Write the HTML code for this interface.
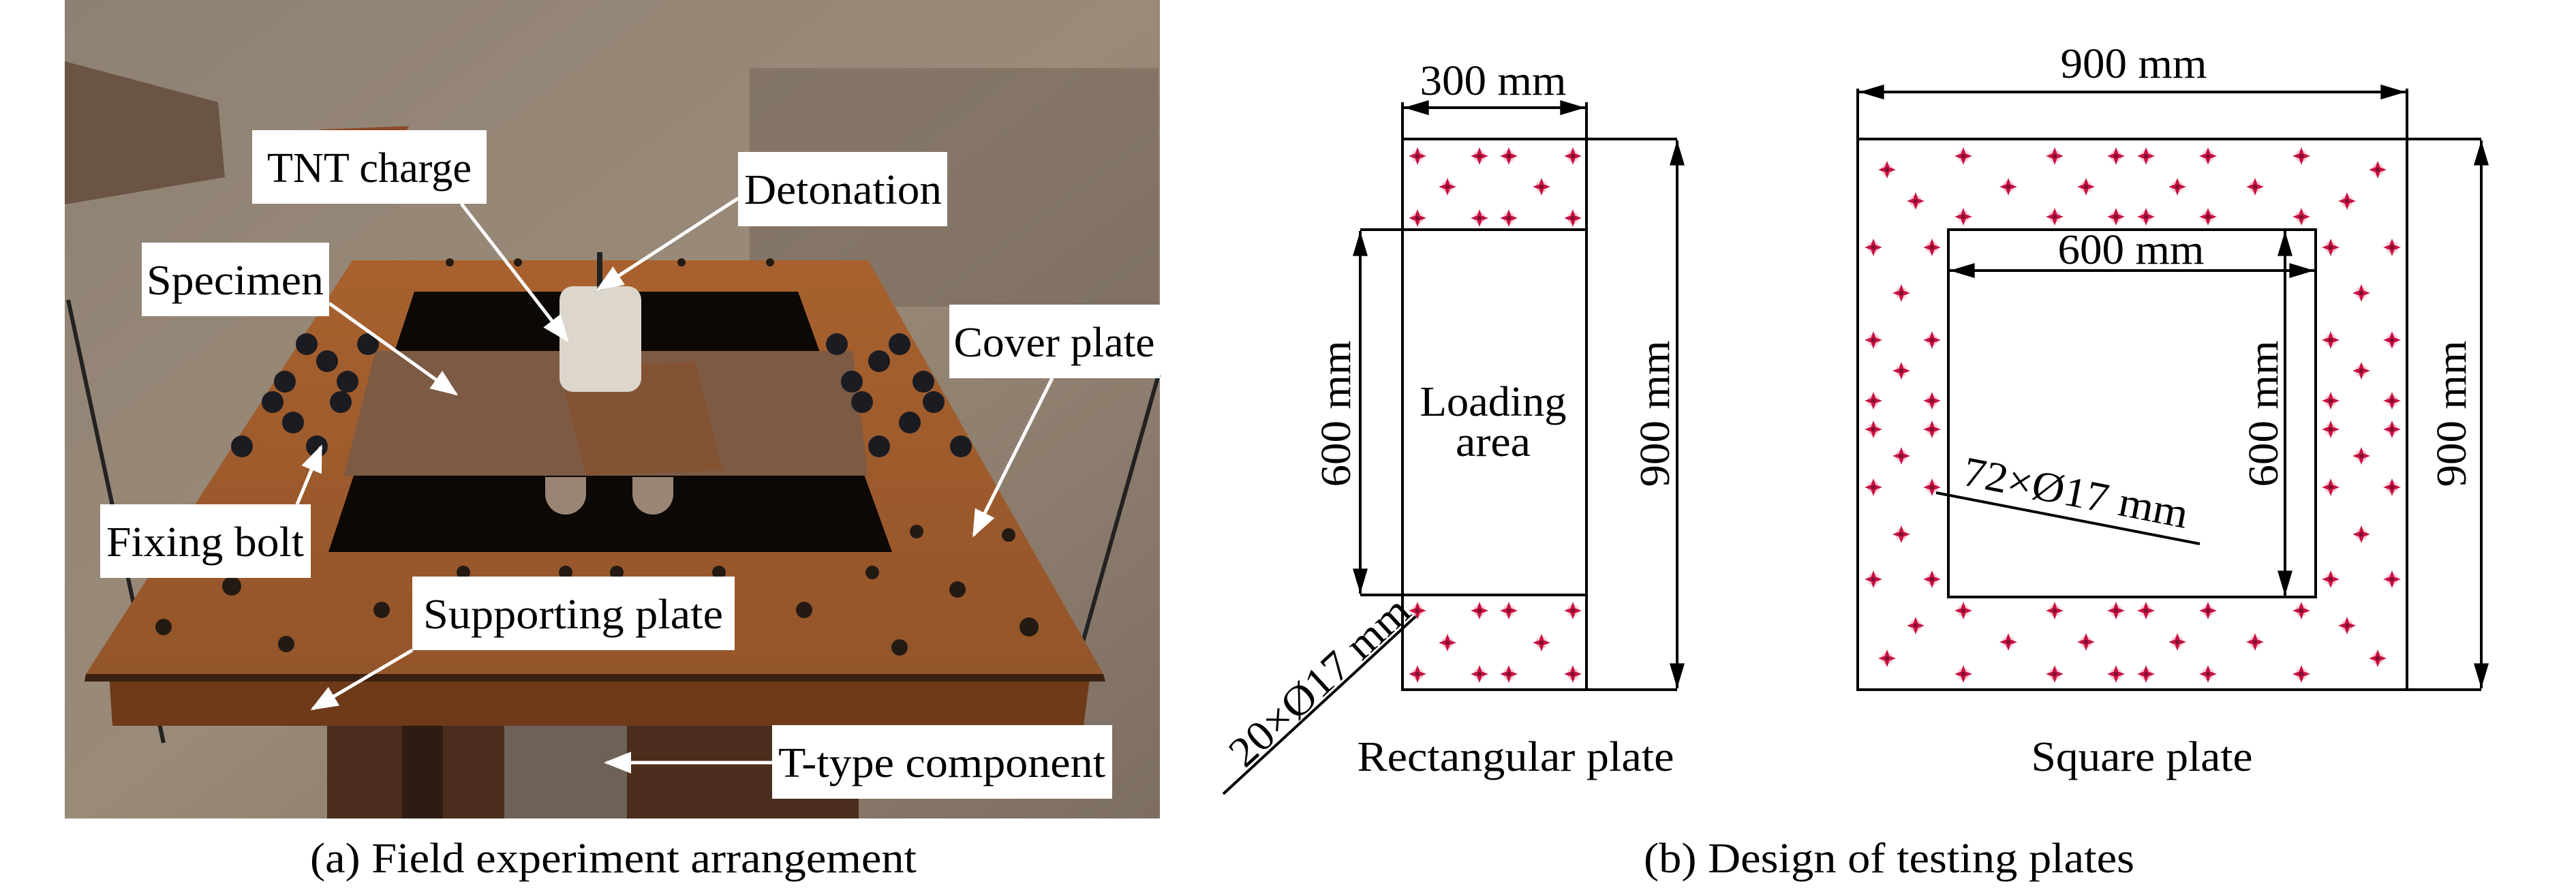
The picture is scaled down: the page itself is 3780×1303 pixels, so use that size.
<!DOCTYPE html>
<html><head><meta charset="utf-8"><style>
html,body{margin:0;padding:0;background:#fff;}
svg{display:block;}
text{font-family:"Liberation Serif","Noto Serif CJK SC","DejaVu Serif","Times New Roman",serif;fill:#000;}
</style></head><body>
<svg width="3780" height="1303" viewBox="0 0 3780 1303" xmlns="http://www.w3.org/2000/svg">
<defs>
<marker id="aw" viewBox="0 0 10 8" refX="9" refY="4" markerWidth="40" markerHeight="32" orient="auto" markerUnits="userSpaceOnUse">
<path d="M0,0 L10,4 L0,8 z" fill="#fff"/></marker>
<marker id="ak" viewBox="0 0 10 6" refX="10" refY="3" markerWidth="50" markerHeight="22" orient="auto-start-reverse" markerUnits="userSpaceOnUse">
<path d="M0,0 L10,3 L0,6 z" fill="#000"/></marker>
<linearGradient id="dirt" x1="0" y1="0" x2="1" y2="1">
<stop offset="0" stop-color="#8e8174"/><stop offset="0.5" stop-color="#9a8a78"/><stop offset="1" stop-color="#7d6e62"/></linearGradient>
<linearGradient id="rust" x1="0" y1="0" x2="0" y2="1">
<stop offset="0" stop-color="#a8612e"/><stop offset="1" stop-color="#93552a"/></linearGradient>
<g id="h"><circle r="9" fill="#f2b8cc" opacity="0.7"/><path d="M0,-13 L3.5,-3.5 L13,0 L3.5,3.5 L0,13 L-3.5,3.5 L-13,0 L-3.5,-3.5 z" fill="#c8103f"/><circle r="3" fill="#7a1030"/></g>
</defs>

<rect x="95" y="0" width="1607" height="1201" fill="url(#dirt)"/>
<rect x="1100" y="100" width="600" height="350" fill="#6f6256" opacity="0.5"/>
<polygon points="95,90 320,150 330,260 95,300" fill="#6b5444"/>
<polygon points="470,190 600,185 560,270 450,280" fill="#8a4a25"/>
<line x1="100" y1="440" x2="240" y2="1090" stroke="#222" stroke-width="6"/>
<line x1="1700" y1="550" x2="1530" y2="1150" stroke="#222" stroke-width="6"/>
<rect x="480" y="1060" width="780" height="141" fill="#4a2d1c"/>
<rect x="740" y="1065" width="180" height="136" fill="#6e6258"/>
<rect x="590" y="1060" width="60" height="141" fill="#2e1c12"/>
<polygon points="160,989 1600,989 1590,1065 165,1065" fill="#6e3a1a"/>
<polygon points="517,382 1274,382 1619,989 126,989" fill="url(#rust)"/>
<polygon points="126,989 1619,989 1622,1000 124,1000" fill="#3a2010"/>
<polygon points="608,428 1171,428 1309,810 482,810" fill="#0b0806"/>
<polygon points="551,515 1251,515 1274,698 505,698" fill="#7c5a44"/>
<polygon points="820,540 1020,530 1060,690 860,698" fill="#8a4e2a" opacity="0.6"/>
<path d="M800,725 a30,30 0 0 0 60,0 v-25 h-60z M928,725 a30,30 0 0 0 60,0 v-25 h-60z" fill="#9a8474"/>
<rect x="821" y="420" width="120" height="155" rx="20" fill="#dcd6cc"/>
<rect x="876" y="370" width="8" height="55" fill="#222"/>
<g fill="#1b1b22">
<circle cx="450" cy="505" r="16"/><circle cx="480" cy="530" r="16"/><circle cx="540" cy="505" r="16"/>
<circle cx="418" cy="560" r="16"/><circle cx="510" cy="560" r="16"/><circle cx="400" cy="590" r="16"/><circle cx="500" cy="590" r="16"/>
<circle cx="430" cy="620" r="16"/><circle cx="355" cy="655" r="16"/><circle cx="465" cy="655" r="16"/>
<circle cx="1228" cy="505" r="16"/><circle cx="1320" cy="505" r="16"/><circle cx="1290" cy="530" r="16"/>
<circle cx="1250" cy="560" r="16"/><circle cx="1355" cy="560" r="16"/><circle cx="1265" cy="590" r="16"/><circle cx="1370" cy="590" r="16"/>
<circle cx="1335" cy="620" r="16"/><circle cx="1290" cy="655" r="16"/><circle cx="1410" cy="655" r="16"/>
</g>
<g fill="#241a14">
<circle cx="240" cy="920" r="12"/><circle cx="420" cy="945" r="12"/><circle cx="560" cy="895" r="12"/><circle cx="680" cy="840" r="10"/>
<circle cx="830" cy="840" r="10"/><circle cx="905" cy="840" r="10"/><circle cx="1055" cy="840" r="10"/><circle cx="1280" cy="840" r="10"/>
<circle cx="1180" cy="895" r="12"/><circle cx="1320" cy="950" r="12"/><circle cx="1405" cy="865" r="12"/><circle cx="1480" cy="785" r="10"/>
<circle cx="340" cy="860" r="14"/><circle cx="1510" cy="920" r="14"/><circle cx="1345" cy="780" r="10"/>
<circle cx="660" cy="385" r="6"/><circle cx="760" cy="385" r="6"/><circle cx="1000" cy="385" r="6"/><circle cx="1130" cy="385" r="6"/>
</g>
<g fill="#fff">
<rect x="370" y="191" width="344" height="108"/>
<rect x="1083" y="223" width="307" height="109"/>
<rect x="208" y="356" width="275" height="108"/>
<rect x="1393" y="447" width="309" height="108"/>
<rect x="147" y="740" width="309" height="108"/>
<rect x="605" y="846" width="473" height="108"/>
<rect x="1133" y="1064" width="499" height="108"/>
</g>
<g stroke="#fff" stroke-width="5" marker-end="url(#aw)" fill="none">
<line x1="677" y1="299" x2="832" y2="499"/>
<line x1="1083" y1="291" x2="878" y2="424"/>
<line x1="483" y1="445" x2="669" y2="578"/>
<line x1="1544" y1="555" x2="1429" y2="785"/>
<line x1="436" y1="740" x2="471" y2="656"/>
<line x1="605" y1="954" x2="459" y2="1040"/>
<line x1="1133" y1="1119" x2="890" y2="1119"/>
</g>
<g font-size="62" text-anchor="middle">
<text x="542" y="267" textLength="300" lengthAdjust="spacingAndGlyphs">TNT charge</text>
<text x="1237" y="299" textLength="290" lengthAdjust="spacingAndGlyphs">Detonation</text>
<text x="345" y="432" textLength="260" lengthAdjust="spacingAndGlyphs">Specimen</text>
<text x="1547" y="523" textLength="295" lengthAdjust="spacingAndGlyphs">Cover plate</text>
<text x="301" y="816" textLength="290" lengthAdjust="spacingAndGlyphs">Fixing bolt</text>
<text x="841" y="922" textLength="440" lengthAdjust="spacingAndGlyphs">Supporting plate</text>
<text x="1382" y="1140" textLength="480" lengthAdjust="spacingAndGlyphs">T-type component</text>
<text x="900" y="1280" textLength="890" lengthAdjust="spacingAndGlyphs">(a) Field experiment arrangement</text>
</g>

<g stroke="#000" stroke-width="4" fill="none">
<rect x="2058" y="204" width="270" height="808"/>
<line x1="1996" y1="337" x2="2328" y2="337"/>
<line x1="1996" y1="873" x2="2328" y2="873"/>
<line x1="2328" y1="204" x2="2461" y2="204"/>
<line x1="2328" y1="1012" x2="2461" y2="1012"/>
<line x1="2058" y1="150" x2="2058" y2="204"/>
<line x1="2328" y1="150" x2="2328" y2="204"/>
<rect x="2726" y="204" width="806" height="808"/>
<rect x="2859" y="337" width="539" height="539"/>
<line x1="2726" y1="130" x2="2726" y2="204"/>
<line x1="3532" y1="130" x2="3532" y2="204"/>
<line x1="3532" y1="204" x2="3641" y2="204"/>
<line x1="3532" y1="1012" x2="3641" y2="1012"/>
<line x1="2080" y1="902" x2="1795" y2="1165"/>
<line x1="2841" y1="723" x2="3228" y2="798"/>
</g>
<g stroke="#000" stroke-width="4" marker-start="url(#ak)" marker-end="url(#ak)">
<line x1="2060" y1="158" x2="2326" y2="158"/>
<line x1="2461" y1="206" x2="2461" y2="1010"/>
<line x1="1996" y1="339" x2="1996" y2="871"/>
<line x1="2728" y1="135" x2="3530" y2="135"/>
<line x1="3641" y1="206" x2="3641" y2="1010"/>
<line x1="2861" y1="397" x2="3396" y2="397"/>
<line x1="3353" y1="339" x2="3353" y2="874"/>
</g>
<g>
<use href="#h" x="2080" y="229"/><use href="#h" x="2171" y="229"/><use href="#h" x="2214" y="229"/><use href="#h" x="2308" y="229"/>
<use href="#h" x="2124" y="274"/><use href="#h" x="2262" y="274"/>
<use href="#h" x="2080" y="320"/><use href="#h" x="2171" y="320"/><use href="#h" x="2214" y="320"/><use href="#h" x="2308" y="320"/>
<use href="#h" x="2080" y="896"/><use href="#h" x="2171" y="896"/><use href="#h" x="2214" y="896"/><use href="#h" x="2308" y="896"/>
<use href="#h" x="2124" y="943"/><use href="#h" x="2262" y="943"/>
<use href="#h" x="2080" y="989"/><use href="#h" x="2171" y="989"/><use href="#h" x="2214" y="989"/><use href="#h" x="2308" y="989"/>
</g>
<g>
<use href="#h" x="2881" y="229"/><use href="#h" x="3015" y="229"/><use href="#h" x="3105" y="229"/><use href="#h" x="3149" y="229"/><use href="#h" x="3240" y="229"/><use href="#h" x="3377" y="229"/>
<use href="#h" x="2769" y="249"/><use href="#h" x="3489" y="249"/>
<use href="#h" x="2947" y="274"/><use href="#h" x="3061" y="274"/><use href="#h" x="3195" y="274"/><use href="#h" x="3309" y="274"/>
<use href="#h" x="2811" y="295"/><use href="#h" x="3444" y="295"/>
<use href="#h" x="2881" y="318"/><use href="#h" x="3015" y="318"/><use href="#h" x="3105" y="318"/><use href="#h" x="3149" y="318"/><use href="#h" x="3240" y="318"/><use href="#h" x="3377" y="318"/>
<use href="#h" x="2881" y="896"/><use href="#h" x="3015" y="896"/><use href="#h" x="3105" y="896"/><use href="#h" x="3149" y="896"/><use href="#h" x="3240" y="896"/><use href="#h" x="3377" y="896"/>
<use href="#h" x="2811" y="918"/><use href="#h" x="3444" y="918"/>
<use href="#h" x="2947" y="942"/><use href="#h" x="3061" y="942"/><use href="#h" x="3195" y="942"/><use href="#h" x="3309" y="942"/>
<use href="#h" x="2769" y="966"/><use href="#h" x="3489" y="966"/>
<use href="#h" x="2881" y="989"/><use href="#h" x="3015" y="989"/><use href="#h" x="3105" y="989"/><use href="#h" x="3149" y="989"/><use href="#h" x="3240" y="989"/><use href="#h" x="3377" y="989"/>
<use href="#h" x="2749" y="363"/><use href="#h" x="2835" y="363"/><use href="#h" x="3420" y="363"/><use href="#h" x="3510" y="363"/>
<use href="#h" x="2790" y="430"/><use href="#h" x="3465" y="430"/>
<use href="#h" x="2749" y="499"/><use href="#h" x="2835" y="499"/><use href="#h" x="3420" y="499"/><use href="#h" x="3510" y="499"/>
<use href="#h" x="2790" y="544"/><use href="#h" x="3465" y="544"/>
<use href="#h" x="2749" y="588"/><use href="#h" x="2835" y="588"/><use href="#h" x="3420" y="588"/><use href="#h" x="3510" y="588"/>
<use href="#h" x="2749" y="630"/><use href="#h" x="2835" y="630"/><use href="#h" x="3420" y="630"/><use href="#h" x="3510" y="630"/>
<use href="#h" x="2790" y="669"/><use href="#h" x="3465" y="669"/>
<use href="#h" x="2749" y="715"/><use href="#h" x="2835" y="715"/><use href="#h" x="3420" y="715"/><use href="#h" x="3510" y="715"/>
<use href="#h" x="2790" y="784"/><use href="#h" x="3465" y="784"/>
<use href="#h" x="2749" y="850"/><use href="#h" x="2835" y="850"/><use href="#h" x="3420" y="850"/><use href="#h" x="3510" y="850"/>
</g>
<g font-size="62" text-anchor="middle">
<text x="2191" y="139" textLength="215" lengthAdjust="spacingAndGlyphs">300 mm</text>
<text x="2191" y="610" textLength="215" lengthAdjust="spacingAndGlyphs">Loading</text>
<text x="2191" y="669" textLength="110" lengthAdjust="spacingAndGlyphs">area</text>
<text transform="translate(1981,607) rotate(-90)" textLength="215" lengthAdjust="spacingAndGlyphs">600 mm</text>
<text transform="translate(2449,607) rotate(-90)" textLength="215" lengthAdjust="spacingAndGlyphs">900 mm</text>
<text x="3131" y="114" textLength="215" lengthAdjust="spacingAndGlyphs">900 mm</text>
<text x="3127" y="387" textLength="215" lengthAdjust="spacingAndGlyphs">600 mm</text>
<text transform="translate(3342,607) rotate(-90)" textLength="215" lengthAdjust="spacingAndGlyphs">600 mm</text>
<text transform="translate(3618,607) rotate(-90)" textLength="215" lengthAdjust="spacingAndGlyphs">900 mm</text>
<text transform="translate(3042,743) rotate(11)" textLength="335" lengthAdjust="spacingAndGlyphs">72×Ø17 mm</text>
<text transform="translate(1950,1015) rotate(-42.6)" textLength="335" lengthAdjust="spacingAndGlyphs">20×Ø17 mm</text>
<text x="2224" y="1131" textLength="465" lengthAdjust="spacingAndGlyphs">Rectangular plate</text>
<text x="3143" y="1131" textLength="325" lengthAdjust="spacingAndGlyphs">Square plate</text>
<text x="2772" y="1280" textLength="720" lengthAdjust="spacingAndGlyphs">(b) Design of testing plates</text>
</g>
</svg>
</body></html>
